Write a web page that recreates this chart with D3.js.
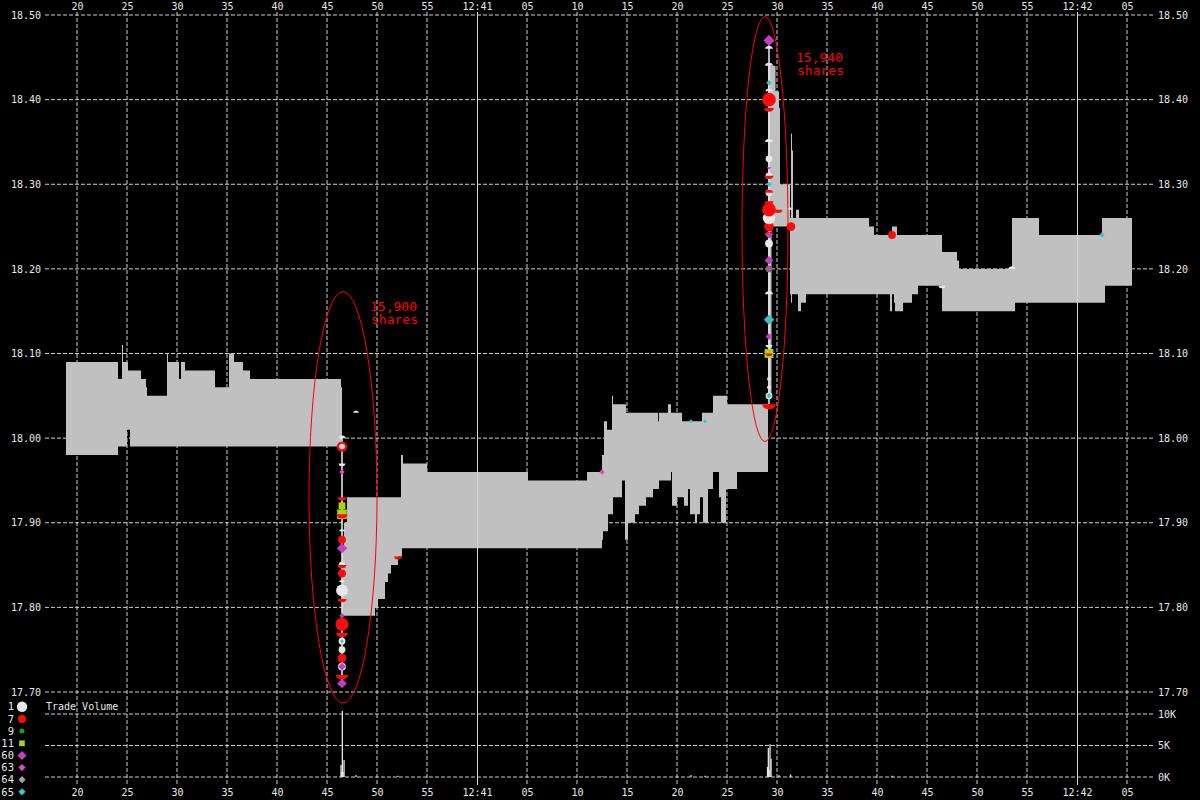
<!DOCTYPE html>
<html>
<head>
<meta charset="utf-8">
<script src="https://cdn.jsdelivr.net/npm/d3@7"></script>
<style>
  html, body { margin: 0; padding: 0; background: #000; }
  svg text { font-family: "DejaVu Sans Mono", monospace; }
</style>
</head>
<body>
<svg id="chart" width="1200" height="800"></svg>
<script>
// times are seconds after 12:40:00

// inside quote band (step after), ask on top, bid below
const quoteTimes = [18.9, 24.1, 24.5, 24.6, 25.0, 25.1, 25.3, 26.4, 26.9, 27.0, 29.0, 29.1, 30.2, 30.4, 30.8, 33.8, 35.2, 35.7, 36.6, 37.3,
  46.4, 46.5, 46.7, 47.0, 49.8, 50.1, 50.8, 51.1, 51.4, 52.1, 52.4, 52.5, 52.6, 55.0, 65.1, 71.0,
  72.5, 72.6, 72.7, 73.0, 73.1, 73.5, 73.6, 74.5, 74.8, 74.9, 75.1, 75.8, 76.2, 76.9, 77.6, 78.1, 78.2, 79.1, 79.4, 79.5,
  80.0, 80.5, 80.7, 81.1, 81.3, 81.8, 82.0, 82.3, 82.5, 82.6, 83.1, 83.6, 84.2, 84.4, 84.9, 85.0, 86.0,
  89.1, 89.45, 89.85, 90.2, 90.3, 91.3, 91.4, 91.5, 91.6, 91.9, 92.1, 92.2, 92.4, 92.9, 99.2, 99.7,
  101.3, 101.5, 101.7, 101.8, 102.0, 102.6, 103.5, 104.1, 106.5, 108.0, 108.2, 113.5, 113.8, 116.2, 122.5, 122.8, 125.5];
const askPrices = [18.09, 18.07, 18.11, 18.09, 18.09, 18.08, 18.08, 18.07, 18.06, 18.05, 18.10, 18.09, 18.07, 18.09, 18.08, 18.06, 18.10, 18.09, 18.08, 18.07,
  18.06, 17.87, 17.90, 17.93, 17.93, 17.93, 17.93, 17.93, 17.93, 17.93, 17.98, 17.98, 17.97, 17.96, 17.95, 17.96,
  17.98, 17.98, 18.02, 18.01, 18.01, 18.05, 18.04, 18.04, 18.04, 18.03, 18.03, 18.03, 18.03, 18.03, 18.03, 18.02, 18.03, 18.04, 18.03, 18.03,
  18.03, 18.02, 18.02, 18.02, 18.02, 18.02, 18.02, 18.02, 18.03, 18.03, 18.03, 18.05, 18.05, 18.05, 18.05, 18.04, 18.04,
  18.44, 18.44, 18.41, 18.39, 18.30, 18.26, 18.36, 18.34, 18.26, 18.27, 18.27, 18.26, 18.26, 18.26, 18.25, 18.24,
  18.24, 18.25, 18.25, 18.25, 18.24, 18.24, 18.24, 18.24, 18.22, 18.21, 18.20, 18.26, 18.26, 18.24, 18.26, 18.26, 18.26];
const bidPrices = [17.98, 17.99, 17.99, 17.99, 18.01, 18.01, 17.99, 17.99, 17.99, 17.99, 17.99, 17.99, 17.99, 17.99, 17.99, 17.99, 17.99, 17.99, 17.99, 17.99,
  17.99, 17.79, 17.79, 17.79, 17.80, 17.81, 17.83, 17.84, 17.85, 17.86, 17.86, 17.87, 17.87, 17.87, 17.87, 17.87,
  17.88, 17.89, 17.89, 17.89, 17.91, 17.91, 17.93, 17.95, 17.88, 17.88, 17.90, 17.91, 17.92, 17.93, 17.94, 17.94, 17.95, 17.95, 17.96, 17.92,
  17.93, 17.93, 17.92, 17.94, 17.91, 17.90, 17.91, 17.93, 17.93, 17.90, 17.94, 17.96, 17.93, 17.90, 17.94, 17.94, 17.96,
  18.05, 18.25, 18.25, 18.25, 18.25, 18.17, 18.16, 18.17, 18.17, 18.17, 18.15, 18.15, 18.16, 18.17, 18.17, 18.17,
  18.15, 18.17, 18.16, 18.15, 18.15, 18.16, 18.17, 18.18, 18.15, 18.15, 18.15, 18.15, 18.16, 18.16, 18.16, 18.18, 18.18];

// trades: time, price, exchange, shares, marker half (f full, u upper, l lower)
const tradeTimes = [
  46.5, 46.5, 46.5, 46.5, 46.5, 46.5, 46.5, 46.5, 46.5, 46.5, 46.5, 46.5, 46.5, 46.5, 46.5, 46.5,
  46.5, 46.5, 46.5, 46.5, 46.5, 46.5, 46.5, 46.5, 46.5, 46.5, 46.5, 46.5, 46.5, 46.5, 46.5,
  47.9, 52.1, 72.5, 81.4, 82.8,
  89.2, 89.2, 89.2, 89.2, 89.2, 89.2, 89.2, 89.2, 89.2, 89.2, 89.2, 89.2, 89.2, 89.2, 89.2, 89.2, 89.2, 89.2, 89.2,
  89.2, 89.2, 89.2, 89.2, 89.2, 89.2, 89.2, 89.2, 89.2, 89.2, 89.2, 89.2, 89.2, 89.2, 89.2, 89.2, 89.2, 89.2, 89.2,
  90.1, 91.3, 91.4, 91.4, 101.5, 101.5, 106.5, 113.5, 122.5];
const tradePrices = [
  18.00, 17.99, 17.99, 17.97, 17.96, 17.93, 17.92, 17.91, 17.91, 17.89, 17.88, 17.87, 17.85, 17.85, 17.84, 17.84,
  17.83, 17.82, 17.81, 17.79, 17.78, 17.78, 17.77, 17.76, 17.76, 17.75, 17.74, 17.73, 17.73, 17.72, 17.71,
  18.03, 17.86, 17.96, 18.02, 18.02,
  18.04, 18.05, 18.05, 18.06, 18.07, 18.10, 18.10, 18.11, 18.12, 18.14, 18.17, 18.20, 18.20, 18.21, 18.23, 18.24, 18.24, 18.24, 18.25,
  18.25, 18.26, 18.27, 18.28, 18.29, 18.29, 18.30, 18.31, 18.31, 18.32, 18.33, 18.35, 18.39, 18.40, 18.41, 18.42, 18.44, 18.46, 18.47,
  18.27, 18.27, 18.25, 18.25, 18.24, 18.24, 18.18, 18.20, 18.24];
const tradeExch = [
  1, 7, 1, 1, 63, 7, 11, 11, 7, 1, 7, 60, 1, 7, 63, 7,
  1, 1, 7, 60, 1, 7, 7, 1, 65, 1, 7, 1, 60, 7, 60,
  1, 7, 63, 65, 65,
  7, 1, 65, 1, 1, 11, 7, 1, 60, 65, 1, 9, 60, 60, 1, 9, 7, 60, 60,
  7, 1, 7, 7, 1, 7, 65, 1, 7, 60, 1, 1, 7, 7, 1, 65, 1, 1, 60,
  7, 1, 63, 7, 60, 7, 1, 1, 65];
const tradeShares = [
  300, 700, 200, 300, 200, 500, 300, 600, 800, 200, 400, 700, 300, 500, 300, 400,
  200, 900, 500, 200, 500, 1100, 900, 300, 100, 300, 500, 400, 400, 1000, 600,
  200, 400, 200, 100, 100,
  1200, 300, 200, 100, 100, 500, 300, 300, 300, 700, 400, 300, 300, 500, 400, 200, 500, 300, 300,
  600, 1000, 1200, 500, 300, 400, 200, 300, 500, 200, 300, 400, 600, 1200, 300, 200, 400, 400, 800,
  500, 200, 200, 500, 200, 400, 300, 300, 200];
const tradeHalf = [
  "u", "f", "f", "l", "f", "l", "f", "f", "l", "u", "f", "f", "f", "l", "f", "f",
  "u", "f", "l", "f", "f", "f", "l", "f", "f", "f", "f", "f", "f", "l", "f",
  "u", "l", "f", "f", "f",
  "l", "f", "f", "f", "f", "f", "l", "l", "f", "f", "u", "f", "f", "f", "f", "f", "u", "f", "f",
  "f", "f", "f", "l", "f", "u", "f", "f", "l", "l", "f", "u", "l", "f", "u", "f", "u", "u", "f",
  "l", "u", "f", "f", "f", "f", "l", "u", "f"];

// trade volume per time bin
const volTimes = [46.4, 46.45, 46.53, 46.6, 46.7, 47.9, 52.1, 72.5, 81.4, 82.8, 89.05, 89.13, 89.2, 89.3, 89.4, 90.2, 91.35, 101.5];
const volShares = [1900, 800, 10500, 800, 2700, 300, 200, 100, 300, 200, 1600, 4600, 1200, 5200, 2900, 300, 400, 200];

// axes
const timeTicks = d3.range(20, 126, 5);
const priceTicks = [17.70, 17.80, 17.90, 18.00, 18.10, 18.20, 18.30, 18.40, 18.50];
const volTicks = [0, 5000, 10000];
const legendExch = [1, 7, 9, 11, 60, 63, 64, 65];

// sweep annotations
const annotCenterTimes = [46.6, 88.8];
const annotHalfSeconds = [3.4, 2.3];
const annotLowPrices = [17.687, 17.996];
const annotHighPrices = [18.173, 18.498];
const annotLabels = ["15,900", "15,940"];
const annotLabelTimes = [49.3, 91.9];
const annotLabelPrices = [18.15, 18.445];

const exStyle = {
  1:  { shape: "circle",  color: "#e8e8e8", legendR: 5.2 },
  7:  { shape: "circle",  color: "#ff0a0a", legendR: 4 },
  9:  { shape: "circle",  color: "#18a018", legendR: 2.5 },
  11: { shape: "square",  color: "#a4d80c", legendR: 2.8 },
  60: { shape: "diamond", color: "#c040c0", legendR: 4.5 },
  63: { shape: "diamond", color: "#e048c8", legendR: 3.6 },
  64: { shape: "diamond", color: "#a0a0a0", legendR: 3.6 },
  65: { shape: "diamond", color: "#40c0c8", legendR: 3.6 }
};

const svg = d3.select("#chart");
svg.append("rect").attr("width", 1200).attr("height", 800).attr("fill", "#000");

const x = d3.scaleLinear().domain([16.8, 127.8]).range([45, 1155]);
const y = d3.scaleLinear().domain([17.70, 18.50]).range([692, 15]);
const yVol = d3.scaleLinear().domain([0, 10000]).range([777, 714]);
const rTrade = d3.scaleSqrt().domain([0, 1200]).range([0, 6.8]);

const gridColor = "#d0d0d0";
const fmtTime = s => s % 60 === 0 ? "12:" + (40 + s / 60) : d3.format("02d")(s % 60);

// grid, behind the band
const grid = svg.append("g");
grid.selectAll("line.v")
  .data(timeTicks.filter(s => s % 60 !== 0))
  .join("line")
    .attr("x1", d => x(d)).attr("x2", d => x(d))
    .attr("y1", 12).attr("y2", 785)
    .attr("stroke", gridColor).attr("stroke-dasharray", "4,2");
grid.selectAll("line.h")
  .data(priceTicks.map(p => y(p)).concat(volTicks.map(v => yVol(v))))
  .join("line")
    .attr("x1", 45).attr("x2", 1155)
    .attr("y1", d => d).attr("y2", d => d)
    .attr("stroke", gridColor).attr("stroke-dasharray", "4,2");

// quote band
const quotes = quoteTimes.map((t, i) => ({ t, ask: askPrices[i], bid: bidPrices[i] }));
svg.append("path")
  .datum(quotes)
  .attr("fill", "#c0c0c0")
  .attr("d", d3.area()
    .curve(d3.curveStepAfter)
    .x(d => x(d.t))
    .y0(d => y(d.bid))
    .y1(d => y(d.ask)));

// minute lines are solid and sit on top of the band
svg.append("g").selectAll("line")
  .data(timeTicks.filter(s => s % 60 === 0))
  .join("line")
    .attr("x1", d => Math.round(x(d)) + 0.5).attr("x2", d => Math.round(x(d)) + 0.5)
    .attr("y1", 12).attr("y2", 785)
    .attr("stroke", "#d4d4d4");

// volume bars
svg.append("g").selectAll("rect")
  .data(volTimes.map((t, i) => ({ t, v: volShares[i] })))
  .join("rect")
    .attr("x", d => x(d.t) - 0.6)
    .attr("width", 1.3)
    .attr("y", d => yVol(d.v))
    .attr("height", d => yVol(0) - yVol(d.v))
    .attr("fill", "#e6e6e6");

// trade bursts: vertical trace through trades printed at the same moment
const trades = tradeTimes.map((t, i) => ({
  t, p: tradePrices[i], ex: tradeExch[i], sh: tradeShares[i], half: tradeHalf[i]
}));
const bursts = Array.from(d3.group(trades, d => d.t).values()).filter(g => g.length > 1);
svg.append("g").selectAll("line")
  .data(bursts)
  .join("line")
    .attr("x1", g => x(g[0].t)).attr("x2", g => x(g[0].t))
    .attr("y1", g => y(d3.max(g, d => d.p))).attr("y2", g => y(d3.min(g, d => d.p)))
    .attr("stroke", "#e4e4e4").attr("stroke-width", 1.6);

function markerPath(shape, r, half) {
  if (half === "u" || half === "l") {
    const s = half === "u" ? -1 : 1;
    if (shape === "diamond") return `M${-r},0L0,${s * r * 0.8}L${r},0Z`;
    return `M${-r},0A${r},${r * 0.75} 0 0 ${half === "u" ? 1 : 0} ${r},0Z`;
  }
  if (shape === "square") return `M${-r},${-r}h${2 * r}v${2 * r}h${-2 * r}Z`;
  if (shape === "diamond") return `M0,${-r}L${r},0L0,${r}L${-r},0Z`;
  return d3.arc()({ innerRadius: 0, outerRadius: r, startAngle: 0, endAngle: 2 * Math.PI });
}

svg.append("g").selectAll("path")
  .data(trades)
  .join("path")
    .attr("transform", d => `translate(${x(d.t)},${y(d.p)})`)
    .attr("d", d => markerPath(exStyle[d.ex].shape, rTrade(d.sh), d.half))
    .attr("fill", d => exStyle[d.ex].color);

// annotations
const annots = annotLabels.map((lab, i) => ({
  lab, t: annotCenterTimes[i], w: annotHalfSeconds[i],
  lo: annotLowPrices[i], hi: annotHighPrices[i],
  lt: annotLabelTimes[i], lp: annotLabelPrices[i]
}));
const ag = svg.append("g");
ag.selectAll("ellipse")
  .data(annots)
  .join("ellipse")
    .attr("cx", d => x(d.t))
    .attr("cy", d => (y(d.lo) + y(d.hi)) / 2)
    .attr("rx", d => x(d.t + d.w) - x(d.t))
    .attr("ry", d => (y(d.lo) - y(d.hi)) / 2)
    .attr("fill", "none").attr("stroke", "#ff0000").attr("stroke-width", 1);
const at = ag.selectAll("text")
  .data(annots)
  .join("text")
    .attr("x", d => x(d.lt))
    .attr("y", d => y(d.lp))
    .attr("fill", "#ff0000")
    .attr("font-size", 13);
at.append("tspan").text(d => d.lab);
at.append("tspan").attr("x", d => x(d.lt) + 1).attr("dy", 13).text("shares");

// axes
function styleAxis(g) {
  g.select(".domain").remove();
  g.attr("font-family", null).attr("font-size", 10).attr("color", "#e8e8e8");
  g.selectAll("text").style("font-family", '"DejaVu Sans Mono", monospace');
}
svg.append("g").attr("transform", "translate(0,12)")
  .call(d3.axisTop(x).tickValues(timeTicks).tickFormat(fmtTime).tickSize(0).tickPadding(2))
  .call(styleAxis);
svg.append("g").attr("transform", "translate(0,785)")
  .call(d3.axisBottom(x).tickValues(timeTicks).tickFormat(fmtTime).tickSize(0).tickPadding(4))
  .call(styleAxis);
svg.append("g").attr("transform", "translate(45,0)")
  .call(d3.axisLeft(y).tickValues(priceTicks).tickFormat(d3.format(".2f")).tickSize(0).tickPadding(4))
  .call(styleAxis);
svg.append("g").attr("transform", "translate(1155,0)")
  .call(d3.axisRight(y).tickValues(priceTicks).tickFormat(d3.format(".2f")).tickSize(0).tickPadding(3))
  .call(styleAxis);
svg.append("g").attr("transform", "translate(1155,0)")
  .call(d3.axisRight(yVol).tickValues(volTicks).tickFormat(v => (v / 1000) + "K").tickSize(0).tickPadding(3))
  .call(styleAxis);

svg.append("text")
  .attr("x", 46).attr("y", 710)
  .attr("fill", "#e8e8e8").attr("font-size", 10)
  .text("Trade Volume");

// legend
const lg = svg.append("g").selectAll("g")
  .data(legendExch)
  .join("g")
    .attr("transform", (d, i) => `translate(0,${706.8 + i * 12.15})`);
lg.append("text")
  .attr("x", 14).attr("dy", "0.35em")
  .attr("text-anchor", "end")
  .attr("fill", "#e8e8e8").attr("font-size", 10.5)
  .text(d => d);
lg.append("path")
  .attr("transform", "translate(22,0)")
  .attr("d", d => markerPath(exStyle[d].shape, exStyle[d].legendR, "f"))
  .attr("fill", d => exStyle[d].color);
</script>
</body>
</html>
